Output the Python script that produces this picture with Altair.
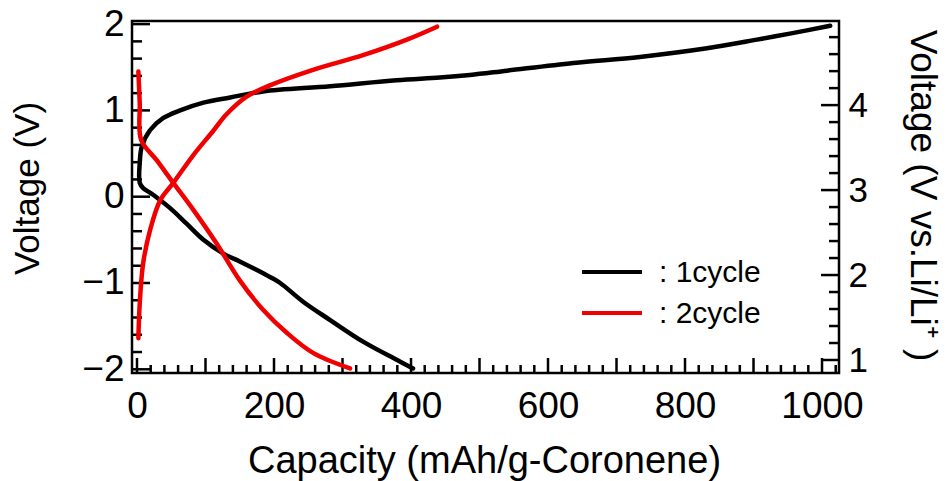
import altair as alt
import pandas as pd

# ---- data -----------------------------------------------------------------
CYCLES = ["1cycle", "2cycle"]
COLORS = ["#000000", "#f00000"]

# 1st cycle: one continuous discharge/charge path (capacity mAh/g, voltage V)
cycle1_capacity = [403, 379, 330, 282, 243, 209, 194, 175, 150, 126, 97, 72, 48,
                   24, 9, 4, 4, 7, 19, 38, 63, 97, 136, 184, 282, 379, 442, 486,
                   540, 637, 734, 832, 905, 953, 1012]
cycle1_voltage = [-1.99, -1.89, -1.68, -1.43, -1.22, -1.00, -0.93, -0.85, -0.75,
                  -0.66, -0.50, -0.31, -0.13, 0.02, 0.10, 0.16, 0.39, 0.58, 0.77,
                  0.91, 1.00, 1.09, 1.15, 1.22, 1.28, 1.35, 1.38, 1.41, 1.46, 1.55,
                  1.62, 1.72, 1.82, 1.89, 1.98]

# 2nd cycle, falling branch
cycle2_fall_capacity = [2, 4, 6, 29, 53, 82, 116, 150, 184, 219, 257, 311]
cycle2_fall_voltage = [1.45, 1.08, 0.66, 0.42, 0.16, -0.15, -0.54, -0.97, -1.31,
                       -1.58, -1.81, -1.99]

# 2nd cycle, rising branch
cycle2_rise_capacity = [2, 4, 9, 19, 34, 53, 82, 112, 130, 160, 194, 257, 330, 394, 438]
cycle2_rise_voltage = [-1.64, -1.24, -0.77, -0.39, -0.04, 0.16, 0.48, 0.77, 0.95,
                       1.16, 1.29, 1.47, 1.64, 1.82, 1.97]

# axis ticks
X_LABELS = [0, 200, 400, 600, 800, 1000]
X_MAJOR = list(range(0, 1001, 100))
X_MINOR = [v for v in range(0, 1021, 20) if v % 100]
YL_MAJOR = [-2, -1, 0, 1, 2]
YL_MINOR = [round(-2 + 0.2 * i, 1) for i in range(21) if (i % 5)]
YR_MAJOR = [1, 2, 3, 4]
YR_MINOR = [round(1 + 0.2 * i, 1) for i in range(20) if (i % 5)]

# ---- layout ---------------------------------------------------------------
W, H = 707, 352
FONT = "Liberation Sans"
X_DOM = [-7.3, 1024.8]
YL_DOM = [-2.043, 2.036]
YR_DOM = [0.847, 4.99]

rows = []
for cyc, seg, caps, vols in [
    ("1cycle", "a", cycle1_capacity, cycle1_voltage),
    ("2cycle", "b", cycle2_fall_capacity, cycle2_fall_voltage),
    ("2cycle", "c", cycle2_rise_capacity, cycle2_rise_voltage),
]:
    for i, (c, v) in enumerate(zip(caps, vols)):
        rows.append({"cycle": cyc, "seg": seg, "idx": i, "cap": c, "v": v})
curves = pd.DataFrame(rows)


def xscale():
    return alt.Scale(domain=X_DOM, nice=False, zero=False)


def ylscale():
    return alt.Scale(domain=YL_DOM, nice=False, zero=False)


def yrscale():
    return alt.Scale(domain=YR_DOM, nice=False, zero=False)


lines = alt.Chart(curves).mark_line(
    strokeWidth=4.5, strokeCap="round", strokeJoin="round", interpolate="catmull-rom"
).encode(
    x=alt.X("cap:Q", scale=xscale(), axis=alt.Axis(
        orient="bottom", values=X_LABELS, ticks=False, tickSize=0, domain=False,
        grid=False, labelFlush=False, labelOverlap=False, labelPadding=15,
        labelFontSize=37, labelBaseline="top", labelColor="black", format="d",
        title="Capacity (mAh/g-Coronene)", titleFontSize=38, titleFontWeight="normal",
        titleColor="black", titleX=352, titleY=99, titleBaseline="alphabetic",
        titleAlign="center")),
    y=alt.Y("v:Q", scale=ylscale(), axis=alt.Axis(
        orient="left", values=YL_MAJOR, ticks=False, tickSize=0, domain=False,
        grid=False, labelFlush=False, labelOverlap=False, labelPadding=8,
        labelFontSize=37, labelColor="black", format="d",
        title="Voltage (V)", titleFontSize=35, titleFontWeight="normal",
        titleColor="black", titleAngle=270, titleX=-94, titleY=167,
        titleBaseline="alphabetic", titleAlign="center")),
    color=alt.Color("cycle:N", scale=alt.Scale(domain=CYCLES, range=COLORS), legend=None),
    detail="seg:N",
    order="idx:Q",
)

TICK = dict(color="black", strokeWidth=2.5)


def y_ticks(values, scale, x_from, x_to):
    return alt.Chart(pd.DataFrame({"t": values})).mark_rule(**TICK).encode(
        y=alt.Y("t:Q", scale=scale, axis=None),
        x=alt.value(x_from), x2=alt.value(x_to))


def x_ticks(values, length):
    return alt.Chart(pd.DataFrame({"t": values})).mark_rule(**TICK).encode(
        x=alt.X("t:Q", scale=xscale(), axis=None),
        y=alt.value(H - length), y2=alt.value(H))


# inward ticks on left, right and bottom edges
tick_layers = [
    y_ticks(YL_MAJOR, ylscale(), 0, 18),
    y_ticks(YL_MINOR, ylscale(), 0, 10),
    y_ticks(YR_MAJOR, yrscale(), W - 18, W),
    y_ticks(YR_MINOR, yrscale(), W - 10, W),
    x_ticks(X_MAJOR, 15),
    x_ticks(X_MINOR, 8),
]

# right-hand scale (V vs. Li/Li+): labels and title only
right_labels = alt.Chart(pd.DataFrame({"r": YR_MAJOR})).mark_point(opacity=0).encode(
    y=alt.Y("r:Q", scale=yrscale(), axis=alt.Axis(
        orient="right", values=YR_MAJOR, ticks=False, tickSize=0, domain=False,
        grid=False, labelFlush=False, labelOverlap=False, labelPadding=9,
        labelFontSize=35, labelColor="black", format="d",
        title="Voltage (V vs.Li/Li\u207a )", titleFontSize=37, titleFontWeight="normal",
        titleColor="black", titleAngle=90, titleX=71, titleY=174,
        titleBaseline="alphabetic", titleAlign="center")),
)

# legend entries
legend_layers = []
for i, (name, col) in enumerate(zip(CYCLES, COLORS)):
    entry = pd.DataFrame({"cycle": [name], "label": [": " + name]})
    ly = 251 + i * 41
    legend_layers.append(
        alt.Chart(entry).mark_rule(strokeWidth=4, color=col).encode(
            x=alt.value(450), x2=alt.value(510), y=alt.value(ly))
    )
    legend_layers.append(
        alt.Chart(entry).mark_text(align="left", baseline="middle", fontSize=30,
                                   font=FONT, color="black").encode(
            x=alt.value(527), y=alt.value(ly + 1), text="label:N")
    )

chart = alt.layer(
    *tick_layers, right_labels, lines, *legend_layers
).resolve_scale(
    x="independent", y="independent"
).resolve_axis(
    x="independent", y="independent"
).properties(
    width=W, height=H,
    padding={"left": 132, "top": 21, "right": 110, "bottom": 108},
    autosize=alt.AutoSizeParams(type="none"),
    background="white",
).configure(
    font=FONT,
).configure_view(
    stroke="black", strokeWidth=2.5,
).configure_axis(
    labelFont=FONT, titleFont=FONT,
)

chart.save("out.html", embed_options={"renderer": "svg", "actions": False})
